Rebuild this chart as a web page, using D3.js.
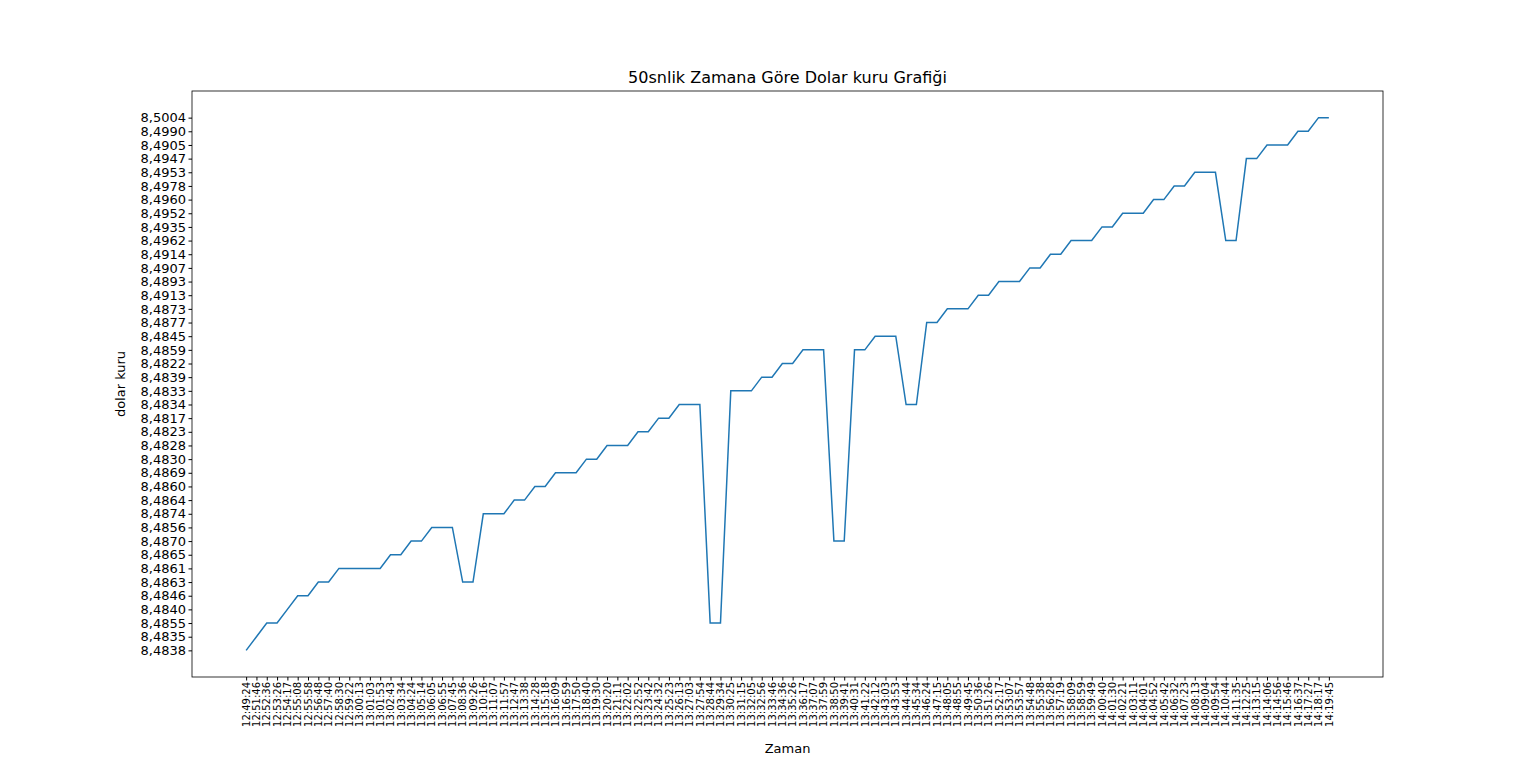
<!DOCTYPE html>
<html><head><meta charset="utf-8">
<script src="https://cdn.jsdelivr.net/npm/d3@7"></script>
<style>body{margin:0;background:#fff;font-family:"DejaVu Sans",sans-serif}</style>
</head><body><div id="chart"></div>
<script>
// x tick labels (time)
var times = ["12:49:24","12:51:46","12:52:36","12:53:26","12:54:17","12:55:08","12:55:58","12:56:48","12:57:40","12:58:30","12:59:22","13:00:13","13:01:03","13:01:53","13:02:43","13:03:34","13:04:24","13:05:14","13:06:05","13:06:55","13:07:45","13:08:36","13:09:26","13:10:16","13:11:07","13:11:57","13:12:47","13:13:38","13:14:28","13:15:18","13:16:09","13:16:59","13:17:50","13:18:40","13:19:30","13:20:20",
"13:21:11","13:22:02","13:22:52","13:23:42","13:24:32","13:25:23","13:26:13","13:27:03","13:27:54","13:28:44","13:29:34","13:30:25","13:31:15","13:32:05","13:32:56","13:33:46","13:34:36","13:35:26","13:36:17","13:37:07","13:37:59","13:38:50","13:39:41","13:40:31","13:41:22","13:42:12","13:43:03","13:43:53","13:44:44","13:45:34","13:46:24","13:47:15","13:48:05","13:48:55","13:49:45","13:50:36",
"13:51:26","13:52:17","13:53:07","13:53:57","13:54:48","13:55:38","13:56:28","13:57:19","13:58:09","13:58:59","13:59:49","14:00:40","14:01:30","14:02:21","14:03:11","14:04:01","14:04:52","14:05:42","14:06:32","14:07:23","14:08:13","14:09:04","14:09:54","14:10:44","14:11:35","14:12:25","14:13:15","14:14:06","14:14:56","14:15:46","14:16:37","14:17:27","14:18:17","14:19:45"];

// rates as strings (categorical y axis, in order of first appearance)
var rates = ["8,4838","8,4835","8,4855","8,4855","8,4840","8,4846","8,4846","8,4863","8,4863","8,4861","8,4861","8,4861","8,4861","8,4861","8,4865","8,4865","8,4870","8,4870","8,4856","8,4856","8,4856","8,4863","8,4863","8,4874","8,4874","8,4874","8,4864","8,4864","8,4860","8,4860","8,4869","8,4869","8,4869","8,4830","8,4830","8,4828","8,4828","8,4828","8,4823","8,4823","8,4817","8,4817","8,4834","8,4834","8,4834","8,4855","8,4855","8,4833","8,4833","8,4833","8,4839","8,4839","8,4822","8,4822","8,4859","8,4859","8,4859","8,4870","8,4870","8,4859","8,4859","8,4845","8,4845","8,4845","8,4834","8,4834","8,4877","8,4877","8,4873","8,4873","8,4873","8,4913","8,4913","8,4893","8,4893","8,4893","8,4907","8,4907","8,4914","8,4914","8,4962","8,4962","8,4962","8,4935","8,4935","8,4952","8,4952","8,4952","8,4960","8,4960","8,4978","8,4978","8,4953","8,4953","8,4953","8,4962","8,4962","8,4947","8,4947","8,4905","8,4905","8,4905","8,4990","8,4990","8,5004","8,5004"];

var cats = [];
rates.forEach(function(r){ if (cats.indexOf(r) < 0) cats.push(r); });

var svg = d3.select("#chart").append("svg").attr("width",1536).attr("height",761);
var plotLeft = 192, plotRight = 1383, plotTop = 91, plotBottom = 677;

var x = d3.scaleLinear().domain([-0.05*(times.length-1), 1.05*(times.length-1)]).range([plotLeft, plotRight]);
var y = d3.scaleLinear().domain([-0.05*(cats.length-1), 1.05*(cats.length-1)]).range([plotBottom, plotTop]);

var xAxis = svg.append("g").attr("transform","translate(0,"+plotBottom+")")
  .call(d3.axisBottom(x).tickValues(d3.range(times.length)).tickFormat(function(i){return times[i];}).tickSize(3.5).tickSizeOuter(0));
xAxis.selectAll("text").attr("transform","rotate(-90)").attr("text-anchor","end")
  .attr("x",-5).attr("y",0).attr("dy","0.32em").style("font-size","10px").style("font-family","DejaVu Sans");

var yAxis = svg.append("g").attr("transform","translate("+plotLeft+",0)")
  .call(d3.axisLeft(y).tickValues(d3.range(cats.length)).tickFormat(function(i){return cats[i];}).tickSize(3.5).tickSizeOuter(0));
yAxis.selectAll("text").style("font-size","13px").style("font-family","DejaVu Sans").attr("x",-6);
svg.selectAll(".domain").remove();

svg.append("rect").attr("x",plotLeft).attr("y",plotTop).attr("width",plotRight-plotLeft).attr("height",plotBottom-plotTop)
  .attr("fill","none").attr("stroke","#000").attr("stroke-width",0.8);

var line = d3.line().x(function(d,i){return x(i);}).y(function(d){return y(cats.indexOf(d));});
svg.append("path").datum(rates).attr("d",line).attr("fill","none").attr("stroke","#1f77b4").attr("stroke-width",1.5);

svg.append("text").attr("x",(plotLeft+plotRight)/2).attr("y",83).attr("text-anchor","middle")
  .style("font-size","16px").text("50snlik Zamana Göre Dolar kuru Grafiği");
svg.append("text").attr("x",(plotLeft+plotRight)/2).attr("y",753).attr("text-anchor","middle")
  .style("font-size","13px").text("Zaman");
svg.append("text").attr("transform","translate(125,"+((plotTop+plotBottom)/2)+") rotate(-90)").attr("text-anchor","middle")
  .style("font-size","13px").text("dolar kuru");
</script></body></html>
